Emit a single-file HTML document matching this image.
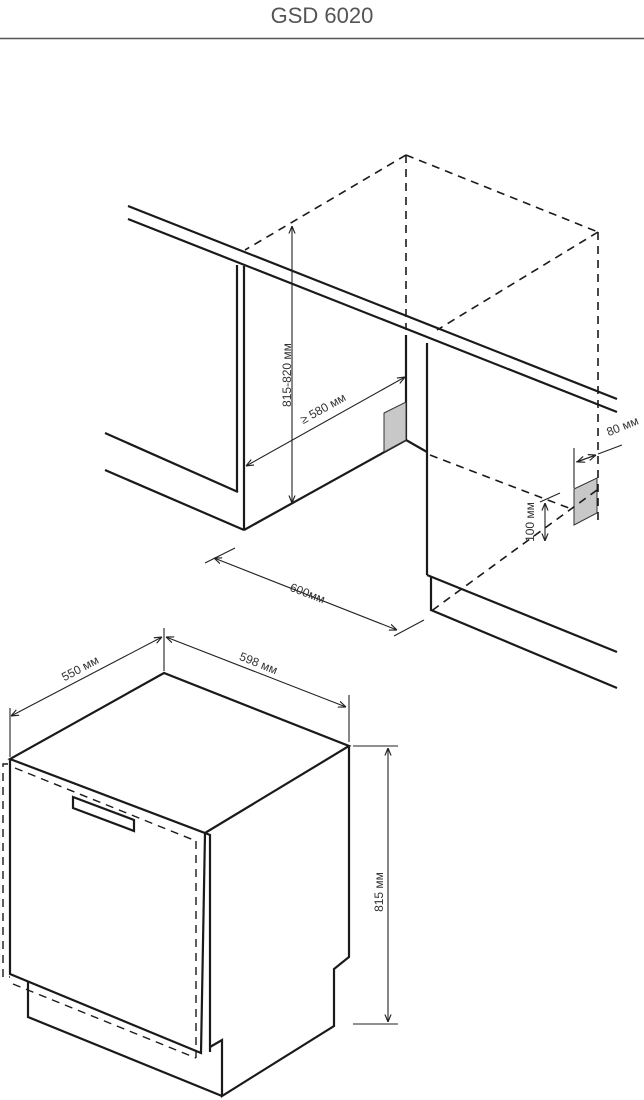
<!DOCTYPE html>
<html><head><meta charset="utf-8"><style>
html,body{margin:0;padding:0;background:#fff;width:644px;height:1100px;overflow:hidden}
svg{display:block}
text{font-family:"Liberation Sans",sans-serif;fill:#333}
</style></head><body>
<svg width="644" height="1100" viewBox="0 0 644 1100" xmlns="http://www.w3.org/2000/svg">
<defs>
<marker id="a" viewBox="0 0 10 10" refX="10" refY="5" markerWidth="7" markerHeight="7" orient="auto-start-reverse"><path d="M0,1 L10,5 L0,9" fill="none" stroke="#222" stroke-width="1.5"/></marker>
</defs>
<text x="322" y="23" font-size="22" text-anchor="middle" style="fill:#555">GSD 6020</text>
<line x1="0" y1="38.5" x2="644" y2="38.5" stroke="#555" stroke-width="1.5"/>

<g stroke="#1a1a1a" stroke-width="2.2" fill="none">
<line x1="128" y1="206" x2="617" y2="399"/>
<line x1="128" y1="219" x2="617" y2="412"/>
<polyline points="237,265 237,492"/>
<polyline points="244,266 244,530"/>
<line x1="105" y1="433" x2="238" y2="492"/>
<line x1="105" y1="470" x2="244" y2="530"/>
<line x1="244" y1="530" x2="406" y2="440"/>
<line x1="406" y1="335" x2="406" y2="440"/>
<line x1="406" y1="440" x2="427" y2="452"/>
<line x1="427" y1="343" x2="427" y2="575"/>
<polyline points="427,575 617,652"/>
<polyline points="431,576 431,610 617,688"/>
</g>
<g fill="#c8c8c8" stroke="#333" stroke-width="1">
<polygon points="384,413 406,402 406,440 384,452"/>
<polygon points="574,489 597,478 597,513 574,525"/>
</g>
<g stroke="#1a1a1a" stroke-width="1.6" fill="none" stroke-dasharray="8,6">
<line x1="406" y1="155" x2="406" y2="330"/>
<line x1="406" y1="155" x2="245" y2="250"/>
<line x1="406" y1="155" x2="598" y2="232"/>
<line x1="598" y1="232" x2="598" y2="525"/>
<line x1="598" y1="232" x2="437" y2="330"/>
<line x1="430" y1="455" x2="574" y2="510"/>
<line x1="597" y1="490" x2="430" y2="612"/>
</g>
<g stroke="#222" stroke-width="1.1" fill="none">
<line x1="292" y1="226" x2="292" y2="503" marker-start="url(#a)" marker-end="url(#a)"/>
<line x1="246" y1="466" x2="405" y2="377" marker-start="url(#a)" marker-end="url(#a)"/>
<line x1="214" y1="558" x2="397" y2="630" marker-start="url(#a)" marker-end="url(#a)"/>
<line x1="205" y1="563" x2="235" y2="548"/>
<line x1="394" y1="636" x2="424" y2="620"/>
<line x1="576" y1="462" x2="596" y2="455" marker-end="url(#a)"/>
<line x1="598" y1="454" x2="622" y2="445"/>
<line x1="596" y1="455" x2="577" y2="462" marker-end="url(#a)"/>
<line x1="574" y1="448" x2="574" y2="488"/>
<line x1="545" y1="503" x2="545" y2="541" marker-start="url(#a)" marker-end="url(#a)"/>
<line x1="540" y1="502" x2="560" y2="493"/>
</g>
<text font-size="12" transform="translate(291,375) rotate(-90)" text-anchor="middle">815-820 мм</text>
<text font-size="12" transform="translate(325,412) rotate(-29)" text-anchor="middle">≥ 580 мм</text>
<text font-size="12" transform="translate(306,597) rotate(21)" text-anchor="middle">600мм</text>
<text font-size="12" transform="translate(624,430) rotate(-22)" text-anchor="middle">80 мм</text>
<text font-size="12" transform="translate(534,522) rotate(-90)" text-anchor="middle">100 мм</text>

<g stroke="#1a1a1a" stroke-width="2.2" fill="none" stroke-linejoin="miter">
<polygon points="164,673 10,759 205,833 349,746"/>
<polyline points="10,759 10,974 201,1053 205,833"/>
<polyline points="205,833 210,835 210,1052"/>
<polyline points="349,746 349,957 334,969 334,1026 222,1096 222,1040 210,1047"/>
<polyline points="28,982 28,1017 222,1096"/>
<polygon points="73,797 134,820 134,831 73,808"/>
</g>
<g stroke="#1a1a1a" stroke-width="1.4" fill="none" stroke-dasharray="8,6">
<polyline points="8,764 3,764 3,977 10,977"/>
<line x1="15" y1="768" x2="196" y2="841"/>
<line x1="196" y1="841" x2="196" y2="1058"/>
<line x1="13" y1="984" x2="196" y2="1058"/>
</g>
<g stroke="#222" stroke-width="1.1" fill="none">
<line x1="11" y1="716" x2="162" y2="637" marker-start="url(#a)" marker-end="url(#a)"/>
<line x1="166" y1="637" x2="346" y2="707" marker-start="url(#a)" marker-end="url(#a)"/>
<line x1="10" y1="708" x2="10" y2="757"/>
<line x1="164" y1="628" x2="164" y2="671"/>
<line x1="349" y1="695" x2="349" y2="742"/>
<line x1="388" y1="748" x2="388" y2="1022" marker-start="url(#a)" marker-end="url(#a)"/>
<line x1="353" y1="746" x2="398" y2="746"/>
<line x1="353" y1="1024" x2="398" y2="1024"/>
</g>
<text font-size="12" transform="translate(82,672) rotate(-28)" text-anchor="middle">550 мм</text>
<text font-size="12" transform="translate(257,667) rotate(22)" text-anchor="middle">598 мм</text>
<text font-size="12" transform="translate(383,892) rotate(-90)" text-anchor="middle">815 мм</text>
</svg>
</body></html>
